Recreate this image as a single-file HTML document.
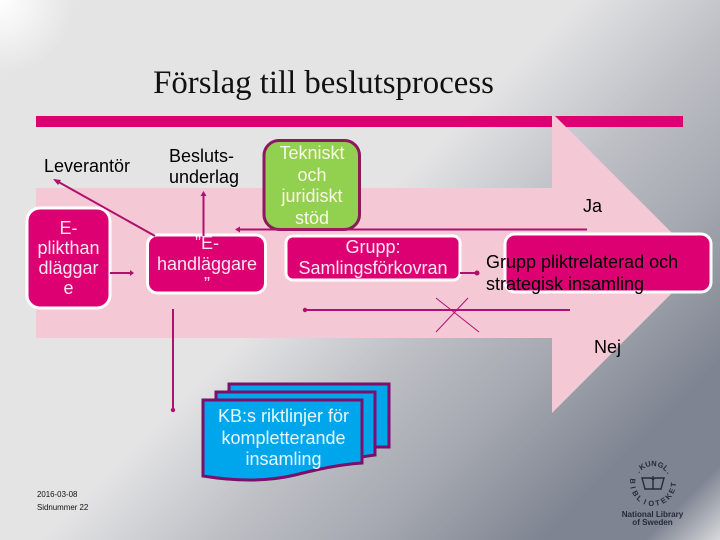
<!DOCTYPE html>
<html>
<head>
<meta charset="utf-8">
<style>
html,body{margin:0;padding:0;background:#e4e4e5}
#c{position:relative;width:720px;height:540px;overflow:hidden;
background:
 radial-gradient(circle 75px at 0 0,#fff 0%,rgba(255,255,255,0) 100%),
 linear-gradient(135deg,#e4e4e5 0%,#e4e4e5 46%,#bdbfc5 60%,#a5a8b0 72%,#7e8491 86%,#7e8491 94%,#d8d8dc 100%);}
svg{position:absolute;left:0;top:0}
.t{position:absolute;font-family:"Liberation Sans",sans-serif;text-align:center;white-space:nowrap;font-size:18px}
</style>
</head>
<body>
<div id="c">
<svg width="720" height="540" viewBox="0 0 720 540">
  <rect x="36" y="116" width="647" height="11" fill="#dc0073"/>
  <polygon points="36,188 552,188 552,116 555,116 702,263 552,413 552,338 36,338" fill="#f5c8d6"/>
  <rect x="147.500" y="235" width="118" height="58" rx="10" fill="#dc0073" stroke="#fff" stroke-width="3"/>
  <rect x="27" y="208" width="83" height="100" rx="13" fill="#dc0073" stroke="#fff" stroke-width="3"/>
  <rect x="286" y="236" width="174" height="44" rx="7" fill="#dc0073" stroke="#fff" stroke-width="3"/>
  <rect x="505" y="234" width="206" height="58" rx="10" fill="#dc0073" stroke="#fff" stroke-width="3"/>
  <rect x="264" y="140.500" width="95.500" height="89" rx="15" fill="#92d050" stroke="#8b1a5c" stroke-width="3"/>

  <g stroke="#b0106e" stroke-width="2" fill="none">
    <line x1="155" y1="236" x2="55" y2="180"/>
    <line x1="110" y1="273" x2="133" y2="273"/>
    <line x1="203.500" y1="240" x2="203.500" y2="193"/>
    <line x1="237" y1="229.500" x2="587" y2="229.500"/>
    <line x1="460" y1="273" x2="477" y2="273"/>
    <line x1="306" y1="310" x2="570" y2="310"/>
    <line x1="173" y1="309" x2="173" y2="410"/>
  </g>
  <g fill="#b0106e">
    <polygon points="53,179 61,180 58,185"/>
    <polygon points="130,270 134,273 130,276"/>
    <polygon points="203.500,191 206.500,196 200.500,196"/>
    <polygon points="235,229.500 240,226.500 240,232.500"/>
    <circle cx="477" cy="273" r="2.500"/>
    <circle cx="305" cy="310" r="2.200"/>
    <circle cx="173" cy="410" r="2.200"/>
  </g>
  <g stroke="#b0106e" stroke-width="1" fill="none">
    <line x1="436" y1="298" x2="479" y2="332"/>
    <line x1="468" y1="298" x2="436" y2="332"/>
  </g>

  <g fill="#00a6eb" stroke="#7a0f6c" stroke-width="3">
    <path d="M229,384 H389 V447 H229 Z"/>
    <path d="M216,392 H375 V455 C350,458 340,462 320,466 H216 Z"/>
    <path d="M203,400 H362 V463 C335,465 315,470 295,475 C270,481 240,482 203,476 Z"/>
  </g>

  <g fill="none" stroke="#262a3c" stroke-width="1.400">
    <path d="M642,478 H650 Q652.500,478 653,480 Q653.500,478 656,478 H664 L661,489 H645 Z"/>
    <line x1="653" y1="476" x2="653" y2="489"/>
  </g>
  <g font-family="Liberation Sans, sans-serif" font-size="7.500" font-weight="bold" fill="#262a3c" text-anchor="middle">
    <text x="653" y="466" transform="rotate(-34 653 483)">K</text>
    <text x="653" y="466" transform="rotate(-15 653 483)">U</text>
    <text x="653" y="466" transform="rotate(3 653 483)">N</text>
    <text x="653" y="466" transform="rotate(23 653 483)">G</text>
    <text x="653" y="466" transform="rotate(41 653 483)">L</text>
    <text x="653" y="466" transform="rotate(56 653 483)">.</text>
    <text x="653" y="466" transform="rotate(-52 653 483)">.</text>
    <text x="653" y="506" transform="rotate(95 653 483)">B</text>
    <text x="653" y="506" transform="rotate(77 653 483)">I</text>
    <text x="653" y="506" transform="rotate(59 653 483)">B</text>
    <text x="653" y="506" transform="rotate(41 653 483)">L</text>
    <text x="653" y="506" transform="rotate(23 653 483)">I</text>
    <text x="653" y="506" transform="rotate(5 653 483)">O</text>
    <text x="653" y="506" transform="rotate(-13 653 483)">T</text>
    <text x="653" y="506" transform="rotate(-31 653 483)">E</text>
    <text x="653" y="506" transform="rotate(-49 653 483)">K</text>
    <text x="653" y="506" transform="rotate(-67 653 483)">E</text>
    <text x="653" y="506" transform="rotate(-85 653 483)">T</text>
  </g>
</svg>

<div class="t" style="left:0;top:65px;width:647px;font:32.800px/36px 'Liberation Serif',serif;color:#111">Förslag till beslutsprocess</div>

<div class="t" style="left:44px;top:156px;line-height:20px;color:#000">Leverantör</div>
<div class="t" style="left:169px;top:146px;line-height:21px;color:#000;text-align:left">Besluts-<br>underlag</div>

<div class="t" style="left:27px;top:218px;width:83px;line-height:20px;color:#fbe6f0">E-<br>plikthan<br>dläggar<br>e</div>
<div class="t" style="left:148px;top:233px;width:118px;line-height:20.500px;color:#fbe6f0">”E-<br>handläggare<br>”</div>
<div class="t" style="left:264px;top:143px;width:96px;line-height:21.700px;color:#fbf6e8">Tekniskt<br>och<br>juridiskt<br>stöd</div>
<div class="t" style="left:286px;top:237px;width:174px;line-height:21px;color:#fbe6f0">Grupp:<br>Samlingsförkovran</div>
<div class="t" style="left:486px;top:251px;line-height:22px;color:#000;text-align:left">Grupp pliktrelaterad och<br>strategisk insamling</div>

<div class="t" style="left:583px;top:196px;line-height:20px;color:#000">Ja</div>
<div class="t" style="left:594px;top:337px;line-height:20px;color:#000">Nej</div>

<div class="t" style="left:201px;top:406px;width:165px;line-height:21.700px;color:#e8f8ff">KB:s riktlinjer för<br>kompletterande<br>insamling</div>

<div class="t" style="left:37px;top:490px;font-size:7.900px;line-height:9px;color:#111;text-align:left">2016-03-08</div>
<div class="t" style="left:37px;top:503px;font-size:7.900px;line-height:9px;color:#111;text-align:left">Sidnummer 22</div>

<div class="t" style="left:612px;top:511px;width:81px;font-size:8.100px;line-height:7.500px;font-weight:bold;color:#262a3c">National Library<br>of Sweden</div>
</div>
</body>
</html>
